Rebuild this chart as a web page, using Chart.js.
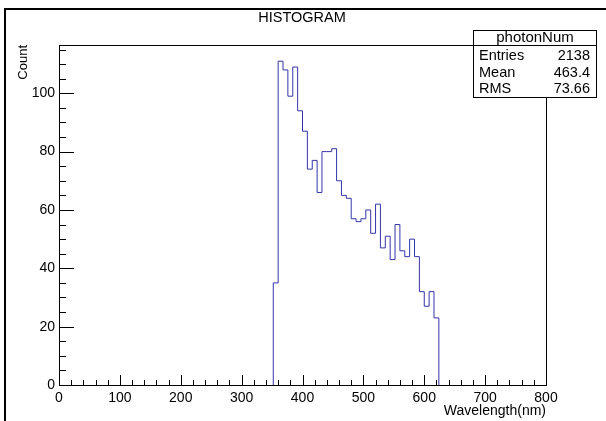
<!DOCTYPE html>
<html>
<head>
<meta charset="utf-8">
<script src="https://cdn.jsdelivr.net/npm/chart.js@4.4.1/dist/chart.umd.min.js"></script>
<style>
html, body { margin: 0; padding: 0; background: #fff; }
canvas { display: block; }
</style>
</head>
<body>
<canvas id="histo" width="606" height="421"></canvas>
<script>
// bin lower edges (nm) and counts
const binLow = [352, 360, 368, 376, 384, 392, 400, 408, 416, 424, 432, 440, 448, 456, 464, 472, 480,
                488, 496, 504, 512, 520, 528, 536, 544, 552, 560, 568, 576, 584, 592, 600, 608, 616];
const binHigh = 624;
const counts = [35, 111, 108, 99, 109, 94, 87, 74, 77, 66, 80, 80, 81, 70, 65, 64, 57,
                56, 57, 60, 52, 62, 47, 51, 43, 55, 46, 44, 50, 44, 32, 27, 32, 23];

const xTicks = [0, 100, 200, 300, 400, 500, 600, 700, 800];
const yTicks = [0, 20, 40, 60, 80, 100];
const statNames = ["Entries", "Mean", "RMS"];
const statValues = ["2138", "463.4", "73.66"];

const FONT = "'Liberation Sans', Arial, Helvetica, sans-serif";

// outline of the histogram as a step line
const points = [{ x: binLow[0], y: 0 }];
binLow.forEach((x, i) => points.push({ x: x, y: counts[i] }));
points.push({ x: binHigh, y: 0 });

// frame, inward ticks, title, stats box and pad border (ROOT look)
const rootLook = {
    id: "rootLook",
    afterDraw(chart) {
        const { ctx, chartArea: a, scales: { x, y } } = chart;
        ctx.save();
        ctx.strokeStyle = "#000";
        ctx.lineWidth = 1;
        ctx.strokeRect(a.left + 0.5, a.top + 0.5, a.right - a.left, a.bottom - a.top);

        ctx.beginPath();
        for (let v = 0; v <= 800; v += 20) {
            const px = Math.round(x.getPixelForValue(v)) + 0.5;
            const len = v % 100 === 0 ? 10 : 5;
            ctx.moveTo(px, a.bottom);
            ctx.lineTo(px, a.bottom - len);
        }
        for (let v = 0; v <= 115; v += 5) {
            const py = Math.round(y.getPixelForValue(v)) + 0.5;
            const len = v % 20 === 0 ? 15 : 7;
            ctx.moveTo(a.left, py);
            ctx.lineTo(a.left + len, py);
        }
        ctx.stroke();

        // title
        ctx.fillStyle = "#000";
        ctx.font = "14.5px " + FONT;
        ctx.textAlign = "center";
        ctx.textBaseline = "middle";
        ctx.fillText("HISTOGRAM", 302, 18);

        // stats box
        ctx.fillStyle = "#fff";
        ctx.fillRect(473, 30, 124, 68);
        ctx.strokeRect(473.5, 30.5, 123, 67);
        ctx.beginPath();
        ctx.moveTo(473.5, 45.5);
        ctx.lineTo(596.5, 45.5);
        ctx.stroke();
        ctx.fillStyle = "#000";
        ctx.font = "15px " + FONT;
        ctx.fillText("photonNum", 535, 38);
        ctx.font = "14.5px " + FONT;
        const rowY = [56, 72.5, 89];
        statNames.forEach((name, i) => {
            ctx.textAlign = "left";
            ctx.fillText(name, 479, rowY[i]);
            ctx.textAlign = "right";
            ctx.fillText(statValues[i], 590, rowY[i]);
        });

        // pad border (top and left edges)
        ctx.fillStyle = "#000";
        ctx.fillRect(4, 8, 602, 2);
        ctx.fillRect(4, 8, 2, 413);
        ctx.restore();
    }
};

const ctx = document.getElementById("histo").getContext("2d");
const histo = new Chart(ctx, {
    type: "line",
    data: {
        datasets: [{
            label: "photonNum",
            data: points,
            stepped: "before",
            borderColor: "#3434a8",
            borderWidth: 1,
            pointRadius: 0,
            fill: false
        }]
    },
    options: {
        responsive: false,
        animation: false,
        devicePixelRatio: 1,
        layout: { padding: { left: 0, top: 45, right: 60, bottom: 0 } },
        plugins: { legend: { display: false }, tooltip: { enabled: false } },
        scales: {
            x: {
                type: "linear",
                min: 0,
                max: 800,
                afterBuildTicks: s => { s.ticks = xTicks.map(v => ({ value: v })); },
                afterFit: s => { s.height = 36; },
                grid: { display: false, drawTicks: false },
                border: { display: false },
                ticks: { autoSkip: false, maxRotation: 0, padding: 5, color: "#000", font: { family: FONT, size: 14 } },
                title: { display: true, text: "Wavelength(nm)", align: "end", color: "#000",
                         font: { family: FONT, size: 14 }, padding: { top: 0, bottom: 1 } }
            },
            y: {
                min: 0,
                max: 116.55,
                afterBuildTicks: s => { s.ticks = yTicks.map(v => ({ value: v })); },
                afterFit: s => { s.width = 59; },
                grid: { display: false, drawTicks: false },
                border: { display: false },
                ticks: { padding: 4, color: "#000", font: { family: FONT, size: 14 } },
                title: { display: true, text: "Count", align: "end", color: "#000",
                         font: { family: FONT, size: 13 }, padding: { top: 16, bottom: 0 } }
            }
        }
    },
    plugins: [rootLook]
});
</script>
</body>
</html>
